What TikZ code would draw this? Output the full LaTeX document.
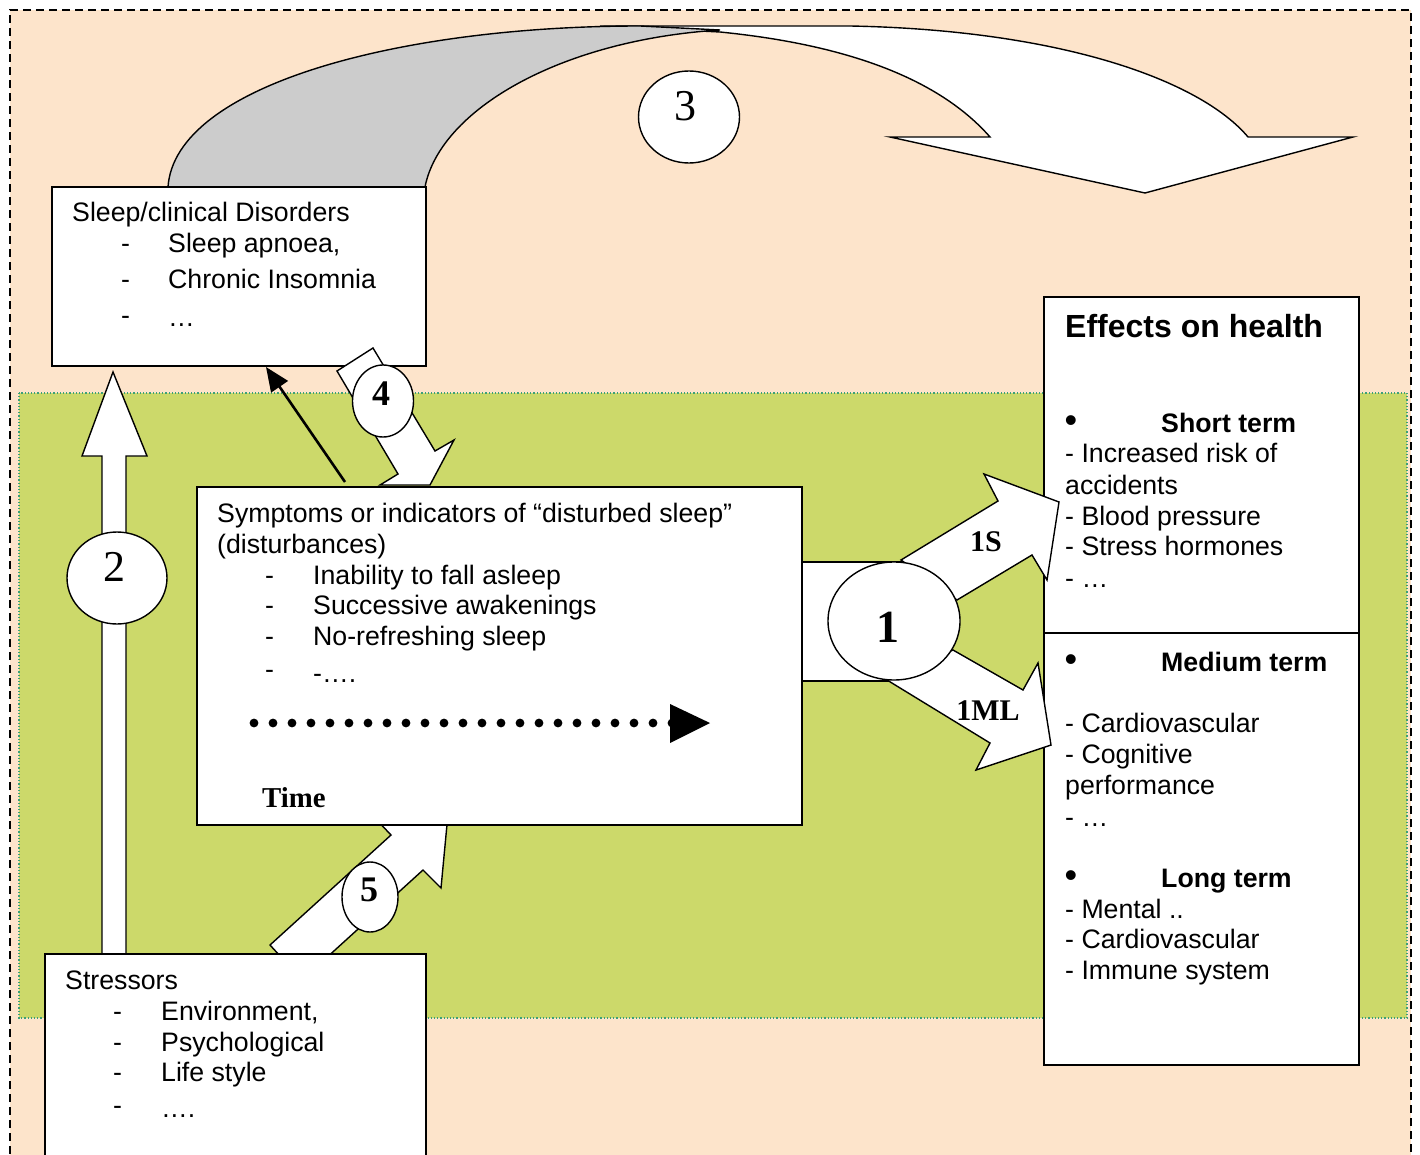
\documentclass[tikz,border=0pt]{standalone}
\usepackage{fontspec}
\setmainfont{Liberation Sans}
\newfontfamily\tms{Liberation Serif}
\usetikzlibrary{shapes.geometric,arrows.meta}
\definecolor{peach}{RGB}{253,228,203}
\definecolor{leaf}{RGB}{204,217,106}
\definecolor{ribbon}{RGB}{204,204,204}
\definecolor{dotgreen}{RGB}{60,160,120}
\begin{document}
\begin{tikzpicture}[x=1pt,y=-1pt,
  box/.style={draw=black, line width=1.8pt, fill=white, outer sep=0pt, inner sep=0pt, anchor=north west},
  blockarrow/.style={draw=black, line width=1.4pt, fill=white, line join=miter},
  oval/.style={ellipse, draw=black, line width=1.4pt, fill=white, inner sep=0pt, outer sep=0pt},
  txt/.style={anchor=base west, inner sep=0pt, font=\fontsize{26.7}{30}\selectfont},
  btxt/.style={anchor=base west, inner sep=0pt, font=\fontsize{26.7}{30}\selectfont\bfseries},
  bul/.style={inner sep=0pt, font=\fontsize{36}{36}\selectfont},
  num/.style={inner sep=0pt, font=\tms\fontsize{44}{44}\selectfont},
  bnum/.style={inner sep=0pt, font=\tms\bfseries\fontsize{36}{36}\selectfont},
  blab/.style={inner sep=0pt, font=\tms\bfseries\fontsize{30}{30}\selectfont},
]
\useasboundingbox (0,0) rectangle (1420,1155);
\clip (0,0) rectangle (1420,1155);

% backgrounds
\fill[peach] (10,10) rectangle (1411,1180);
\draw[line width=1.3pt, dash pattern=on 8pt off 5pt] (10,1180) -- (10,10) -- (1411,10) -- (1411,1180);
\fill[leaf] (19,393) rectangle (1407,1018);
\draw[dotgreen, line width=1.2pt, dotted] (19,393) rectangle (1407,1018);

% arrow 3 (curved ribbon)
\filldraw[blockarrow] (600,26) -- (850,26) .. controls (1060,30) and (1200,80) .. (1248,137)
  -- (1353,137) -- (1145,193) -- (890,137) -- (990,137)
  .. controls (940,80) and (850,45) .. (720,32) -- cycle;
\filldraw[blockarrow, fill=ribbon] (168,187) .. controls (175,85) and (400,26) .. (640,26) -- (720,30)
  .. controls (560,40) and (440,110) .. (425,187) -- cycle;
\node[oval, minimum width=101pt, minimum height=92pt] (c3) at (689,117) {};
\node[num] (l3) at (685,106) {3};

% sleep box
\node[box, minimum width=374pt, minimum height=179pt] (sleep) at (52,187) {};
\node[txt] (s0) at (72,222) {Sleep/clinical Disorders};
\node[txt] (s1d) at (121,253) {-};
\node[txt] (s1) at (168,253) {Sleep apnoea,};
\node[txt] (s2d) at (121,289) {-};
\node[txt] (s2) at (168,289) {Chronic Insomnia};
\node[txt] (s3d) at (121,324) {-};
\node[txt] (s3) at (168,326) {…};

% arrow 2
\filldraw[blockarrow] (102,970) -- (102,456) -- (82,456) -- (113,372) -- (147,456) -- (126,456) -- (126,970) -- cycle;
\node[oval, minimum width=100pt, minimum height=92pt] (c2) at (117,578) {};
\node[num] (l2) at (114,567) {2};

% arrow 5
\filldraw[blockarrow] (270,945) -- (391,835) -- (373,816) -- (448,814) -- (441,888) -- (423,870) -- (302,980) -- cycle;
\node[oval, minimum width=56pt, minimum height=70pt] (c5) at (370,897) {};
\node[bnum] (l5) at (369,890) {5};

% arrow 4
\filldraw[blockarrow] (337,371) -- (373,348) -- (435,451) -- (454,440) -- (430,485) -- (380,485) -- (398,474) -- cycle;
\node[oval, minimum width=61pt, minimum height=72pt] (c4) at (383,401) {};
\node[bnum] (l4) at (381,394) {4};

% thin arrow symptoms -> sleep
\coordinate (ta) at (345,482);
\coordinate (tb) at (266,367);
\draw[line width=2.6pt, -{Triangle[length=24pt,width=20pt]}] (ta) -- (tb);

% arrow 1 base rectangle
\filldraw[blockarrow] (802,562) rectangle (919,681);

% symptoms box
\node[box, minimum width=605pt, minimum height=338pt] (symp) at (197,487) {};
\node[txt] (y0) at (217,522) {Symptoms or indicators of “disturbed sleep”};
\node[txt] (y1) at (217,553) {(disturbances)};
\node[txt] (y2d) at (265,584) {-};
\node[txt] (y2) at (313,584) {Inability to fall asleep};
\node[txt] (y3d) at (265,614) {-};
\node[txt] (y3) at (313,614) {Successive awakenings};
\node[txt] (y4d) at (265,645) {-};
\node[txt] (y4) at (313,645) {No-refreshing sleep};
\node[txt] (y5d) at (265,678) {-};
\node[txt] (y5) at (313,682) {-….};
\foreach \i in {0,...,22} \fill (254+19*\i,723) circle (4.4);
\fill (670,704) -- (710,723) -- (670,743) -- cycle;
\node[anchor=base west, inner sep=0pt, font=\tms\bfseries\fontsize{28.8}{30}\selectfont] (time) at (262,807) {Time};

% stressors box
\node[box, minimum width=381pt, minimum height=230pt] (stress) at (45,954) {};
\node[txt] (t0) at (65,989) {Stressors};
\node[txt] (t1d) at (113,1020) {-};
\node[txt] (t1) at (161,1020) {Environment,};
\node[txt] (t2d) at (113,1051) {-};
\node[txt] (t2) at (161,1051) {Psychological};
\node[txt] (t3d) at (113,1081) {-};
\node[txt] (t3) at (161,1081) {Life style};
\node[txt] (t4d) at (113,1114) {-};
\node[txt] (t4) at (161,1117) {….};

% effects box
\node[box, minimum width=315pt, minimum height=768pt] (eff) at (1044,297) {};
\draw[line width=1.8pt] (eff.west |- 0,633) -- (eff.east |- 0,633);
\node[anchor=base west, inner sep=0pt, font=\fontsize{32}{34}\selectfont\bfseries] (e0) at (1065,337) {Effects on health};
\node[bul] (b1) at (1071,424) {•};
\node[btxt] (e1) at (1161,432) {Short term};
\node[txt] (e2) at (1065,462) {- Increased risk of};
\node[txt] (e3) at (1065,494) {accidents};
\node[txt] (e4) at (1065,525) {- Blood pressure};
\node[txt] (e5) at (1065,555) {- Stress hormones};
\node[txt] (e6) at (1065,587) {- …};
\node[bul] (b2) at (1071,663) {•};
\node[btxt] (e7) at (1161,671) {Medium term};
\node[txt] (e8) at (1065,732) {- Cardiovascular};
\node[txt] (e9) at (1065,763) {- Cognitive};
\node[txt] (e10) at (1065,794) {performance};
\node[txt] (e11) at (1065,826) {- …};
\node[bul] (b3) at (1071,879) {•};
\node[btxt] (e12) at (1161,887) {Long term};
\node[txt] (e13) at (1065,918) {- Mental ..};
\node[txt] (e14) at (1065,948) {- Cardiovascular};
\node[txt] (e15) at (1065,979) {- Immune system};

% arrows 1S and 1ML
\filldraw[blockarrow] (901,560) -- (998,501) -- (984,474) -- (1059,502) -- (1047,580) -- (1032,555) -- (957,600) -- cycle;
\filldraw[blockarrow] (953,650) -- (1023,690) -- (1038,663) -- (1051,745) -- (976,770) -- (990,743) -- (887,680) -- cycle;
\node[blab] (l1s) at (986,542) {1S};
\node[blab] (l1ml) at (988,711) {1ML};
\node[oval, minimum width=132pt, minimum height=118pt] (c1) at (894,621) {};
\node[inner sep=0pt, font=\tms\bfseries\fontsize{46}{46}\selectfont] (l1) at (888,627) {1};
\end{tikzpicture}
\end{document}
